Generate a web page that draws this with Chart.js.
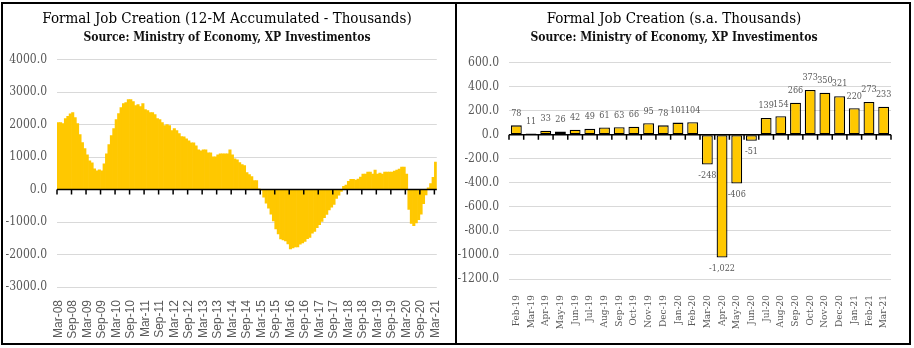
<!DOCTYPE html>
<html>
<head>
<meta charset="utf-8">
<title>Formal Job Creation</title>
<script src="https://cdn.jsdelivr.net/npm/chart.js@4.4.1/dist/chart.umd.min.js"></script>
<style>
    html, body { margin: 0; padding: 0; background: #fff; }
    body { width: 914px; height: 348px; position: relative; overflow: hidden; }
    .panel { position: absolute; top: 2px; height: 343px; box-sizing: border-box; border: 2px solid #000; }
    #leftPanel { left: 1px; width: 456px; }
    #rightPanel { left: 455px; width: 456px; }
    .panel canvas { display: block; }
</style>
</head>
<body>
<div class="panel" id="leftPanel"><canvas id="accumChart" width="452" height="339"></canvas></div>
<div class="panel" id="rightPanel"><canvas id="monthlyChart" width="452" height="339"></canvas></div>

<script>
// 12-month accumulated formal jobs (thousands), Mar-08 .. Mar-21
const accumValues = [
    2060, 2060, 2030, 2185, 2250, 2330, 2370, 2215, 2030, 1690, 1445, 1258,
    1072, 887, 825, 640, 577, 608, 577, 794, 1103, 1381, 1660, 1876,
    2155, 2340, 2526, 2650, 2680, 2773, 2773, 2711, 2588, 2619, 2557, 2650,
    2464, 2433, 2371, 2371, 2309, 2186, 2155, 2062, 1969, 2000, 1969, 1814,
    1876, 1814, 1722, 1629, 1625, 1561, 1500, 1439, 1439, 1347, 1224, 1194,
    1224, 1224, 1133, 1133, 1010, 1010, 1071, 1102, 1102, 1102, 1102, 1224,
    1071, 949, 918, 827, 765, 735, 520, 459, 398, 276, 276, 20,
    -20, -235, -418, -571, -755, -969, -1214, -1367, -1520, -1551, -1582, -1673,
    -1830, -1800, -1770, -1765, -1680, -1640, -1600, -1510, -1470, -1345, -1290, -1170,
    -1085, -985, -865, -765, -630, -545, -455, -275, -170, -55, 100, 135,
    255, 317, 317, 290, 322, 385, 473, 473, 535, 535, 473, 597,
    473, 504, 473, 535, 535, 535, 535, 566, 597, 629, 690, 690,
    473, -610, -1040, -1115, -1025, -925, -760, -435, -163, 55, 185, 375,
    845
];
const accumTicks = [-3000, -2000, -1000, 0, 1000, 2000, 3000, 4000];

// Monthly job creation, seasonally adjusted (thousands)
const monthlyLabels = [
    'Feb-19', 'Mar-19', 'Apr-19', 'May-19', 'Jun-19', 'Jul-19', 'Aug-19', 'Sep-19',
    'Oct-19', 'Nov-19', 'Dec-19', 'Jan-20', 'Feb-20', 'Mar-20', 'Apr-20', 'May-20',
    'Jun-20', 'Jul-20', 'Aug-20', 'Sep-20', 'Oct-20', 'Nov-20', 'Dec-20', 'Jan-21',
    'Feb-21', 'Mar-21'
];
const monthlyValues = [
    78, 11, 33, 26, 42, 49, 61, 63, 66, 95, 78, 101, 104,
    -248, -1022, -406, -51, 139, 154, 266, 373, 350, 321, 220, 273, 233
];
const monthlyTicks = [-1200, -1000, -800, -600, -400, -200, 0, 200, 400, 600];

const MONTHS = ['Jan', 'Feb', 'Mar', 'Apr', 'May', 'Jun', 'Jul', 'Aug', 'Sep', 'Oct', 'Nov', 'Dec'];

const BAR_COLOR = '#FFC800';
const GRID_COLOR = '#D9D9D9';
const TEXT_GRAY = '#595959';
const SERIF = "'DejaVu Serif Condensed', 'DejaVu Serif', serif";
const SANS = "'Liberation Sans', Arial, sans-serif";

// month labels like "Mar-08", counted from a starting month
function buildMonthLabels(year, monthIndex, count) {
    const labels = [];
    for (let i = 0; i < count; i++) {
        const m = (monthIndex + i) % 12;
        const y = year + Math.floor((monthIndex + i) / 12);
        labels.push(MONTHS[m] + '-' + String(y % 100).padStart(2, '0'));
    }
    return labels;
}
const accumLabels = buildMonthLabels(2008, 2, accumValues.length);

// black zero line with small tick marks under it (Excel style horizontal axis)
const zeroAxisLine = {
    id: 'zeroAxisLine',
    afterDatasetsDraw(chart, args, opts) {
        const { ctx, chartArea, scales } = chart;
        const x = scales.x;
        const y0 = scales.y.getPixelForValue(0);
        const half = (x.getPixelForValue(1) - x.getPixelForValue(0)) / 2;
        const count = chart.data.labels.length;
        ctx.save();
        ctx.strokeStyle = '#000';
        ctx.lineWidth = 1.5;
        ctx.beginPath();
        ctx.moveTo(chartArea.left, y0);
        ctx.lineTo(chartArea.right, y0);
        for (let i = 0; i <= count; i += opts.every) {
            const tx = x.getPixelForValue(i) - half;
            ctx.moveTo(tx, y0);
            ctx.lineTo(tx, y0 + 5);
        }
        ctx.stroke();
        ctx.restore();
    }
};

// value labels above / below the monthly bars
const barValueLabels = {
    id: 'barValueLabels',
    afterDatasetsDraw(chart, args, opts) {
        if (!opts.show) return;
        const ctx = chart.ctx;
        const meta = chart.getDatasetMeta(0);
        const values = chart.data.datasets[0].data;
        ctx.save();
        ctx.font = '9px ' + SERIF;
        ctx.fillStyle = TEXT_GRAY;
        ctx.textAlign = 'center';
        ctx.textBaseline = 'middle';
        meta.data.forEach((bar, i) => {
            const v = values[i];
            const ty = v >= 0 ? bar.y - 12 : bar.y + 11;
            ctx.fillText(v.toLocaleString('en-US'), bar.x, ty);
        });
        ctx.restore();
    }
};

function makeOptions(cfg) {
    return {
        responsive: false,
        animation: false,
        devicePixelRatio: 1,
        layout: { padding: { left: 0, right: cfg.padRight, top: 0, bottom: 0 } },
        plugins: {
            legend: { display: false },
            tooltip: { enabled: false },
            title: {
                display: true,
                text: cfg.title,
                color: '#000',
                font: { family: SERIF, size: 15, weight: 'normal', lineHeight: 1.2 },
                padding: { top: 6, bottom: 2 }
            },
            subtitle: {
                display: true,
                text: 'Source: Ministry of Economy, XP Investimentos',
                color: '#111',
                font: { family: SERIF, size: 12, weight: 'bold', lineHeight: 1.3 },
                padding: { top: 0, bottom: cfg.subPad }
            },
            zeroAxisLine: { every: cfg.tickEvery },
            barValueLabels: { show: cfg.valueLabels }
        },
        scales: {
            x: {
                grid: { display: false },
                border: { display: false },
                ticks: {
                    autoSkip: false,
                    minRotation: 90,
                    maxRotation: 90,
                    padding: cfg.xPad,
                    color: TEXT_GRAY,
                    font: cfg.xFont,
                    callback: function(value, index) {
                        return index % cfg.labelEvery === 0 ? this.getLabelForValue(value) : '';
                    }
                },
                afterFit: (scale) => { scale.height = cfg.xHeight; }
            },
            y: {
                min: cfg.ticks[0],
                max: cfg.ticks[cfg.ticks.length - 1],
                afterBuildTicks: (scale) => { scale.ticks = cfg.ticks.map(v => ({ value: v })); },
                grid: { color: GRID_COLOR, lineWidth: 1, drawTicks: false },
                border: { display: false },
                ticks: {
                    padding: cfg.yPad,
                    color: TEXT_GRAY,
                    font: { family: SERIF, size: 12 },
                    callback: (value) => Number(value).toFixed(1)
                },
                afterFit: (scale) => { scale.width = cfg.yWidth; }
            }
        }
    };
}

function drawAccumChart() {
    const ctx = document.getElementById('accumChart').getContext('2d');
    new Chart(ctx, {
        type: 'bar',
        data: {
            labels: accumLabels,
            datasets: [{
                data: accumValues,
                backgroundColor: BAR_COLOR,
                borderWidth: 0,
                barPercentage: 1,
                categoryPercentage: 1
            }]
        },
        options: makeOptions({
            title: 'Formal Job Creation (12-M Accumulated - Thousands)',
            ticks: accumTicks,
            padRight: 4,
            subPad: 14,
            yWidth: 54,
            yPad: 10,
            xHeight: 56,
            xPad: 5,
            xFont: { family: SANS, size: 12 },
            labelEvery: 6,
            tickEvery: 6,
            valueLabels: false
        }),
        plugins: [zeroAxisLine, barValueLabels]
    });
}

function drawMonthlyChart() {
    const ctx = document.getElementById('monthlyChart').getContext('2d');
    new Chart(ctx, {
        type: 'bar',
        data: {
            labels: monthlyLabels,
            datasets: [{
                data: monthlyValues,
                backgroundColor: BAR_COLOR,
                borderColor: '#000',
                borderWidth: 1.3,
                borderSkipped: false,
                barPercentage: 0.74,
                categoryPercentage: 1
            }]
        },
        options: makeOptions({
            title: 'Formal Job Creation (s.a. Thousands)',
            ticks: monthlyTicks,
            padRight: 18,
            subPad: 17,
            yWidth: 52,
            yPad: 10,
            xHeight: 64,
            xPad: 8,
            xFont: { family: SERIF, size: 10 },
            labelEvery: 1,
            tickEvery: 1,
            valueLabels: true
        }),
        plugins: [zeroAxisLine, barValueLabels]
    });
}

document.addEventListener('DOMContentLoaded', function() {
    drawAccumChart();
    drawMonthlyChart();
});
</script>
</body>
</html>
